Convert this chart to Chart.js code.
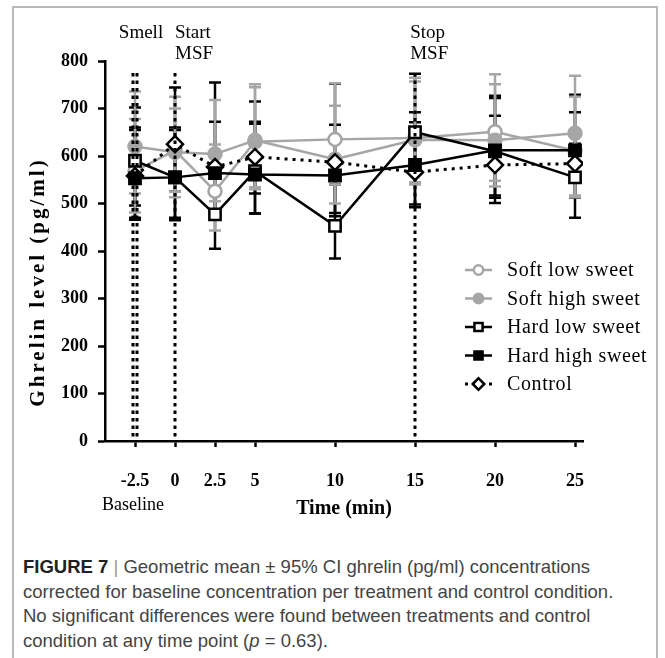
<!DOCTYPE html>
<html>
<head>
<meta charset="utf-8">
<script src="https://cdn.jsdelivr.net/npm/chart.js@4.4.1/dist/chart.umd.min.js"></script>
<style>
  body { margin: 0; background: #fff; }
  #wrap { position: relative; width: 665px; height: 658px; overflow: hidden; }
  #moldura { position: absolute; left: 12px; top: 6px; width: 642px; height: 700px;
    border: 2px solid #b8b8b8; border-bottom: none; }
  #grafico { position: absolute; left: 0; top: 0; }
  #legenda { position: absolute; left: 23px; top: 555px; white-space: nowrap;
    font-family: "Liberation Sans", Arial, sans-serif; font-size: 18.5px; line-height: 24.5px; color: #444; }
  #legenda b { color: #222; }
  #legenda .sep { color: #999; }
</style>
</head>
<body>
<div id="wrap">
  <div id="moldura"></div>
  <canvas id="grafico" width="665" height="530"></canvas>
  <div id="legenda"><b>FIGURE 7</b> <span class="sep">|</span> Geometric mean ± 95% CI ghrelin (pg/ml) concentrations<br>corrected for baseline concentration per treatment and control condition.<br>No significant differences were found between treatments and control<br>condition at any time point (<i>p</i> = 0.63).</div>
</div>
<script>
// tempos de coleta (min) e ticks do eixo x
const tempos = [-2.5, 0, 2.5, 5, 10, 15, 20, 25];
const ticksX = [-2.5, 0, 2.5, 5, 10, 15, 20, 25];

// médias geométricas (pg/ml)
const softLow  = [568, 612, 526, 630, 635, 638, 651, 611];
const softHigh = [620, 608, 604, 633, 593, 634, 633, 648];
const hardLow  = [590, 555, 477, 568, 453, 650, 610, 555];
const hardHigh = [553, 555, 564, 561, 559, 581, 612, 612];
const controle = [558, 625, 577, 598, 587, 566, 581, 584];

// IC 95% inferior / superior
const softLowMin  = [481, 513, 443, 530, 540, 545, 548, 513];
const softLowMax  = [678, 725, 624, 745, 753, 765, 772, 725];
const softHighMin = [521, 525, 505, 534, 500, 540, 536, 517];
const softHighMax = [736, 700, 718, 751, 706, 757, 751, 769];
const hardLowMin  = [496, 465, 405, 479, 384, 545, 512, 470];
const hardLowMax  = [702, 655, 560, 668, 540, 773, 727, 692];
const hardHighMin = [466, 470, 470, 479, 473, 492, 517, 513];
const hardHighMax = [660, 660, 672, 672, 666, 692, 722, 729];
const controleMin = [470, 525, 480, 521, 480, 498, 501, 513];
const controleMax = [655, 744, 755, 715, 752, 671, 685, 626];

// linhas verticais pontilhadas e textos dos eventos
const linhasEvento = [-2.65, -2.4, 0, 15];
const eventos = [
  { x: -2.5, linhas: ['Smell'], centro: true },
  { x: 0, linhas: ['Start', 'MSF'], centro: false },
  { x: 14.7, linhas: ['Stop', 'MSF'], centro: false }
];

const CINZA = '#a6a6a6';
const PRETO = '#000';
const SERIF = '"Liberation Serif", "Times New Roman", serif';

function pontos(valores) {
  return tempos.map((t, i) => ({ x: t, y: valores[i] }));
}

const datasets = [
  { label: 'Soft low sweet', data: pontos(softLow), min: softLowMin, max: softLowMax,
    borderColor: CINZA, pointBackgroundColor: '#fff', pointBorderColor: CINZA,
    pointStyle: 'circle', pointRadius: 6.5, order: 5 },
  { label: 'Soft high sweet', data: pontos(softHigh), min: softHighMin, max: softHighMax,
    borderColor: CINZA, pointBackgroundColor: CINZA, pointBorderColor: CINZA,
    pointStyle: 'circle', pointRadius: 6.5, order: 4 },
  { label: 'Hard low sweet', data: pontos(hardLow), min: hardLowMin, max: hardLowMax,
    borderColor: PRETO, pointBackgroundColor: '#fff', pointBorderColor: PRETO,
    pointStyle: 'rect', pointRadius: 8, order: 2 },
  { label: 'Hard high sweet', data: pontos(hardHigh), min: hardHighMin, max: hardHighMax,
    borderColor: PRETO, pointBackgroundColor: PRETO, pointBorderColor: PRETO,
    pointStyle: 'rect', pointRadius: 8, order: 1 },
  { label: 'Control', data: pontos(controle), min: controleMin, max: controleMax,
    borderColor: PRETO, borderDash: [3, 5], borderWidth: 3, pointBackgroundColor: '#fff',
    pointBorderColor: PRETO, pointStyle: 'rectRot', pointRadius: 8, order: 3 }
];
datasets.forEach(d => {
  d.borderWidth = d.borderWidth || 2.5;
  d.pointBorderWidth = 2.5;
  d.tension = 0;
  d.fill = false;
});

// barras de erro (IC 95%) desenhadas antes das séries
const barrasErro = {
  id: 'barrasErro',
  beforeDatasetsDraw(chart) {
    const ctx = chart.ctx, sx = chart.scales.x, sy = chart.scales.y;
    ctx.save();
    ctx.lineWidth = 2.5;
    chart.data.datasets.slice().reverse().forEach(ds => {
      ctx.strokeStyle = ds.borderColor;
      tempos.forEach((t, i) => {
        const x = sx.getPixelForValue(t);
        const y1 = sy.getPixelForValue(ds.min[i]);
        const y2 = sy.getPixelForValue(ds.max[i]);
        ctx.beginPath();
        ctx.moveTo(x, y1); ctx.lineTo(x, y2);
        ctx.moveTo(x - 6, y1); ctx.lineTo(x + 6, y1);
        ctx.moveTo(x - 6, y2); ctx.lineTo(x + 6, y2);
        ctx.stroke();
      });
    });
    ctx.restore();
  }
};

// linhas dos eventos, textos extras e legenda
const extras = {
  id: 'extras',
  afterDraw(chart) {
    const ctx = chart.ctx, sx = chart.scales.x, sy = chart.scales.y;
    ctx.save();
    // pontilhadas
    ctx.strokeStyle = PRETO;
    ctx.lineWidth = 3;
    ctx.setLineDash([3.5, 4]);
    linhasEvento.forEach(v => {
      const x = Math.round(sx.getPixelForValue(v));
      ctx.beginPath();
      ctx.moveTo(x, sy.getPixelForValue(775));
      ctx.lineTo(x, sy.bottom);
      ctx.stroke();
    });
    ctx.setLineDash([]);

    ctx.fillStyle = PRETO;
    ctx.font = '19px ' + SERIF;
    ctx.textBaseline = 'middle';
    eventos.forEach(ev => {
      const x = sx.getPixelForValue(ev.x);
      ev.linhas.forEach((txt, k) => {
        ctx.textAlign = ev.centro ? 'center' : 'left';
        ctx.fillText(txt, ev.centro ? x + 6 : x, 33 + k * 21);
      });
    });

    // "Baseline" sob o -2.5
    ctx.textAlign = 'center';
    ctx.font = '18px ' + SERIF;
    ctx.fillText('Baseline', sx.getPixelForValue(-2.5) - 2, 505);

    // título do eixo y
    ctx.save();
    ctx.translate(39, 282);
    ctx.rotate(-Math.PI / 2);
    ctx.font = 'bold 21px ' + SERIF;
    ctx.letterSpacing = '3px';
    ctx.fillText('Ghrelin level (pg/ml)', 0, 0);
    ctx.restore();

    // legenda
    ctx.font = '20px ' + SERIF;
    ctx.letterSpacing = '0.6px';
    ctx.textAlign = 'left';
    chart.data.datasets.forEach((ds, k) => {
      const y = 270 + k * 28.5;
      ctx.strokeStyle = ds.borderColor;
      ctx.lineWidth = ds.borderWidth;
      ctx.setLineDash(ds.borderDash || []);
      ctx.beginPath();
      ctx.moveTo(465, y); ctx.lineTo(492, y);
      ctx.stroke();
      ctx.setLineDash([]);
      ctx.fillStyle = ds.pointBackgroundColor;
      ctx.strokeStyle = ds.pointBorderColor;
      ctx.lineWidth = 2.5;
      Chart.helpers.drawPoint(ctx, { pointStyle: ds.pointStyle, radius: ds.pointRadius * 0.72, rotation: 0, borderWidth: 2.5 }, 478.5, y);
      ctx.fillStyle = PRETO;
      ctx.fillText(ds.label, 507, y + 1);
    });
    ctx.restore();
  }
};

new Chart(document.getElementById('grafico'), {
  type: 'line',
  data: { datasets: datasets },
  plugins: [barrasErro, extras],
  options: {
    responsive: false,
    animation: false,
    layout: { padding: { left: 0, top: 61, right: 82, bottom: 0 } },
    plugins: { legend: { display: false }, tooltip: { enabled: false } },
    scales: {
      x: {
        type: 'linear', min: -4.375, max: 25.5,
        afterBuildTicks: s => { s.ticks = ticksX.map(v => ({ value: v })); },
        afterFit: s => { s.height = 89; },
        grid: { drawOnChartArea: false, drawTicks: true, tickLength: 6, tickWidth: 2.5, tickColor: PRETO },
        border: { color: PRETO, width: 2.5 },
        ticks: { color: PRETO, padding: 24, maxRotation: 0, font: { family: SERIF, size: 18, weight: 'bold' } },
        title: { display: true, text: 'Time (min)', color: PRETO, padding: { top: 0, bottom: 9 },
          font: { family: SERIF, size: 20, weight: 'bold' } }
      },
      y: {
        min: 0, max: 800,
        afterFit: s => { s.width = 105; },
        ticks: { stepSize: 100, color: PRETO, padding: 10, font: { family: SERIF, size: 18, weight: 'bold' } },
        grid: { drawOnChartArea: false, drawTicks: true, tickLength: 7, tickWidth: 2.5, tickColor: PRETO },
        border: { color: PRETO, width: 2.5 }
      }
    }
  }
});
</script>
</body>
</html>
